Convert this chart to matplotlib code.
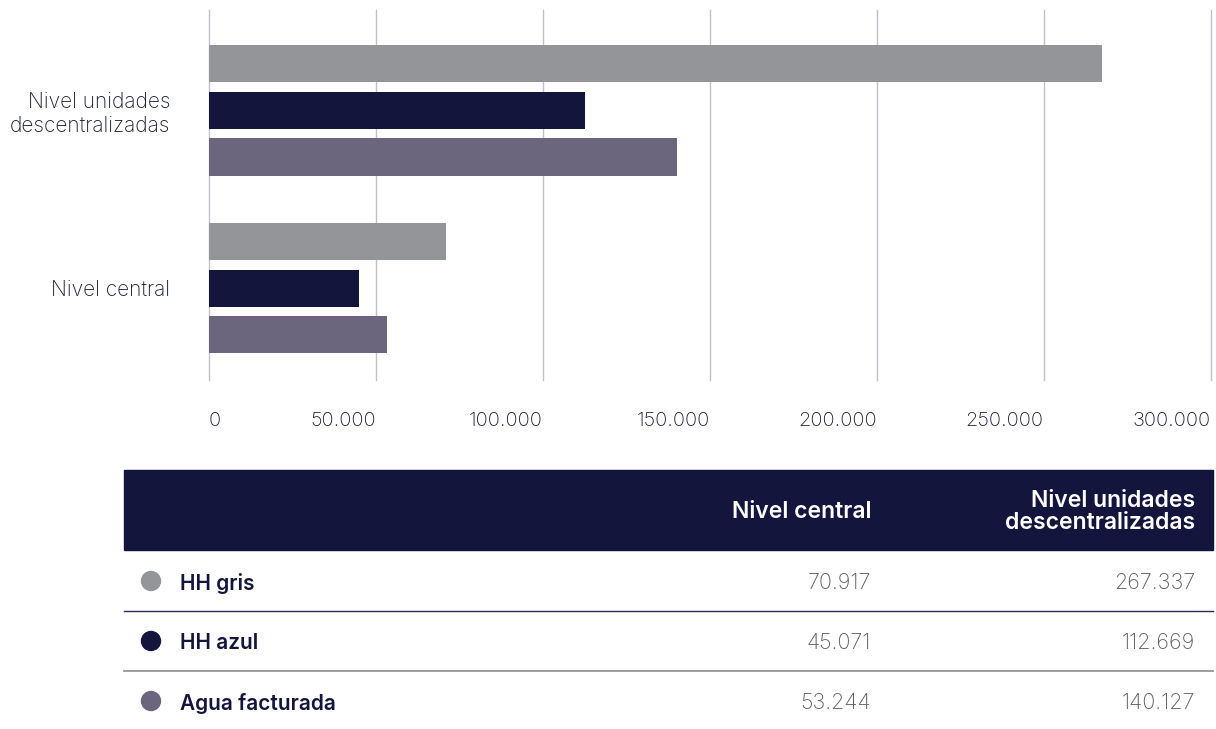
import matplotlib
matplotlib.use('Agg')
import matplotlib.pyplot as plt
from matplotlib.patches import Rectangle, Circle

# --- data ---
niveles = ['Nivel unidades\ndescentralizadas', 'Nivel central']
series = ['HH gris', 'HH azul', 'Agua facturada']
hh_gris = [267337, 70917]
hh_azul = [112669, 45071]
agua_facturada = [140127, 53244]
x_ticks = [0, 50000, 100000, 150000, 200000, 250000, 300000]
tabla_cols = ['Nivel central', 'Nivel unidades\ndescentralizadas']

colores = ['#949599', '#13153d', '#6b667d']
NAVY = '#13153d'
FONT = 'Inter'


def miles(v):
    return '{:,}'.format(v).replace(',', '.')


W, H = 1216, 729
fig = plt.figure(figsize=(W / 100, H / 100), dpi=100)

# bar chart area (pixel based placement)
left, right, top, bottom = 209, 1210.7, 10, 380
ax = fig.add_axes([left / W, 1 - bottom / H, (right - left) / W, (bottom - top) / H])

paso = 46.5 / 177.5
alto = 37 / 177.5
pos = range(len(niveles))
for i, (vals, col) in enumerate(zip([hh_gris, hh_azul, agua_facturada], colores)):
    ax.barh([p + (i - 1) * paso for p in pos], vals, height=alto, color=col, zorder=3)

ax.set_xlim(0, 300000)
ax.set_ylim(1.518, -0.566)
ax.set_yticks(list(pos))
ax.set_yticklabels(niveles, fontsize=15, fontfamily=FONT, fontweight='light',
                   color='#1d1d3a', linespacing=1.2)
ax.set_xticks(x_ticks)
ax.set_xticklabels([miles(t) for t in x_ticks], fontsize=14.4, fontfamily=FONT,
                   fontweight='light', color='#1d1d3a')
for k, lbl in enumerate(ax.get_xticklabels()):
    lbl.set_horizontalalignment('left' if k == 0 else 'right')
ax.tick_params(axis='x', length=0, pad=23)
ax.tick_params(axis='y', length=0, pad=28)
ax.grid(axis='x', color='#c2c0cc', linewidth=1.0, zorder=0)
for gl in ax.get_xgridlines():
    gl.set_clip_on(False)
for s in ax.spines.values():
    s.set_visible(False)

# table underneath
tb = fig.add_axes([0, 0, 1, 1])
tb.set_xlim(0, W)
tb.set_ylim(H, 0)
tb.axis('off')

tb.add_patch(Rectangle((124, 470), 1213 - 124, 80, color=NAVY))
col_x = [871, 1195]
for cx, txt in zip(col_x, tabla_cols):
    tb.text(cx, 512, txt, ha='right', va='center', color='white', fontsize=16.5,
            fontfamily=FONT, fontweight='semibold', linespacing=0.95)

fila_y = [583, 643, 703]
valores = [hh_gris, hh_azul, agua_facturada]
for r, (nombre, col, vals) in enumerate(zip(series, colores, valores)):
    y = fila_y[r]
    tb.add_patch(Circle((151, y - 2), 9.5, color=col))
    tb.text(180, y, nombre, ha='left', va='center', color=NAVY, fontsize=15,
            fontfamily=FONT, fontweight='semibold')
    # columns: central first, then descentralizadas
    tb.text(col_x[0], y, miles(vals[1]), ha='right', va='center', color='#5f5f66',
            fontsize=15.5, fontfamily=FONT, fontweight='light')
    tb.text(col_x[1], y, miles(vals[0]), ha='right', va='center', color='#5f5f66',
            fontsize=15.5, fontfamily=FONT, fontweight='light')

tb.plot([124, 1213], [611, 611], color='#2c2c5c', linewidth=1.0)
tb.plot([124, 1213], [671, 671], color='#8c8c8c', linewidth=1.2)

fig.savefig('out.png', dpi=100)
